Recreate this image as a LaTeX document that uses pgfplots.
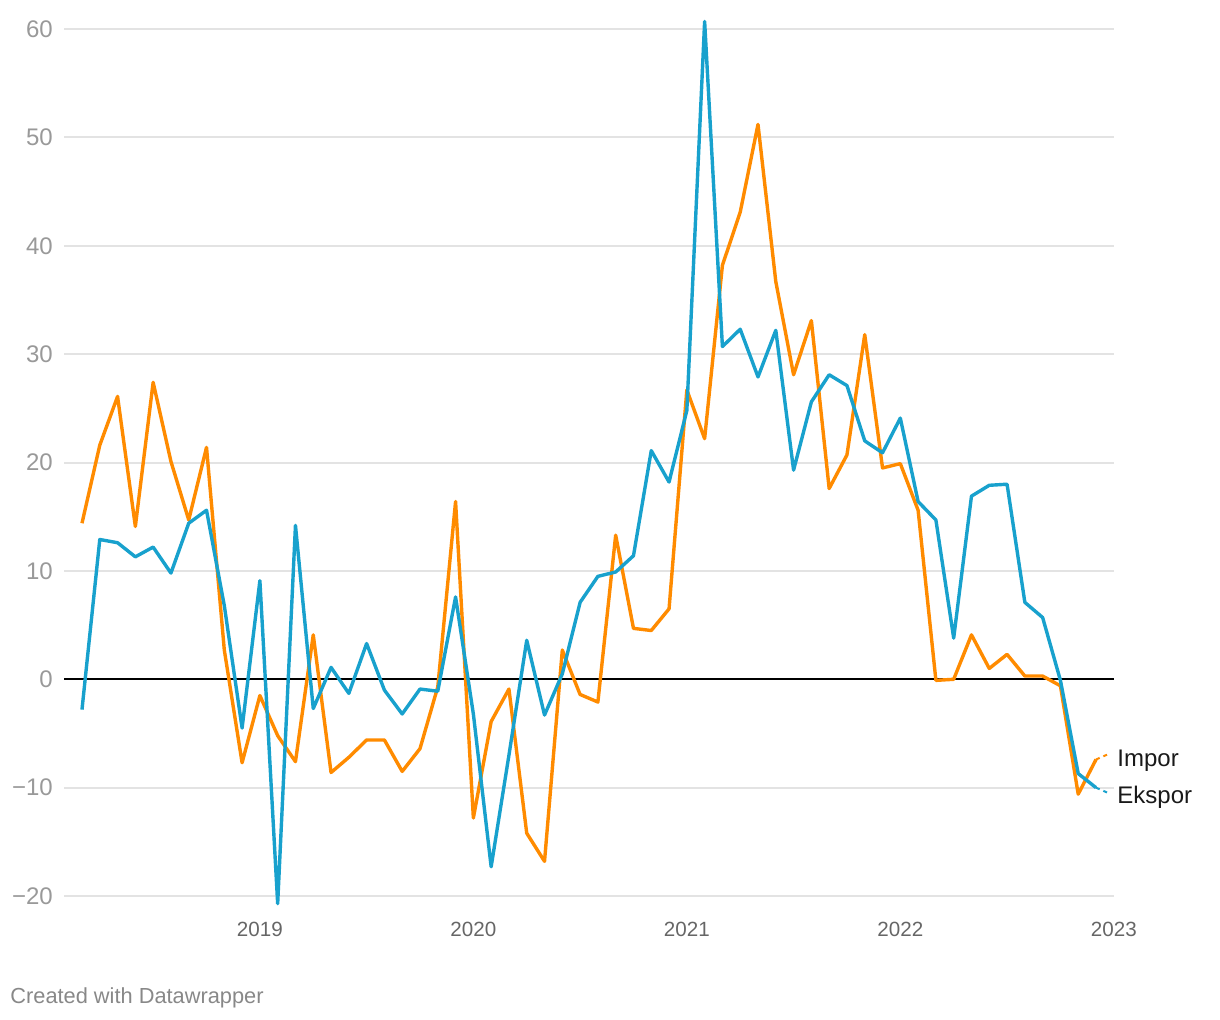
\documentclass[border=0pt]{standalone}
\usepackage{fontspec}
\setmainfont{Liberation Sans}
\usepackage{pgfplots}
\pgfplotsset{compat=1.18}
\usepackage{pgfplotstable}

\definecolor{impor}{HTML}{FF8B00}
\definecolor{ekspor}{HTML}{18A1CD}
\definecolor{gridc}{HTML}{E3E3E3}
\definecolor{ylab}{HTML}{999999}
\definecolor{xlab}{HTML}{666666}
\definecolor{foot}{HTML}{888888}

% month index k: 0 = Mar 2018 ... 57 = Dec 2022
\pgfplotstableread{
k  impor  ekspor
0  14.4   -2.8
1  21.6   12.9
2  26.1   12.6
3  14.1   11.3
4  27.4   12.2
5  20.1    9.8
6  14.7   14.4
7  21.4   15.6
8   2.7    6.8
9  -7.7   -4.5
10 -1.5    9.1
11 -5.2  -20.7
12 -7.6   14.2
13  4.1   -2.7
14 -8.6    1.1
15 -7.2   -1.3
16 -5.6    3.3
17 -5.6   -1.0
18 -8.5   -3.2
19 -6.4   -0.9
20 -0.7   -1.1
21 16.4    7.6
22 -12.8  -3.2
23 -3.9  -17.3
24 -0.9   -7.0
25 -14.2   3.6
26 -16.8  -3.3
27  2.7    0.5
28 -1.4    7.1
29 -2.1    9.5
30 13.3    9.9
31  4.7   11.4
32  4.5   21.1
33  6.5   18.2
34 26.7   24.8
35 22.2   60.7
36 38.2   30.7
37 43.1   32.3
38 51.2   27.9
39 36.7   32.2
40 28.1   19.3
41 33.1   25.6
42 17.6   28.1
43 20.7   27.1
44 31.8   22.0
45 19.5   20.9
46 19.9   24.1
47 15.6   16.4
48 -0.1   14.7
49  0.0    3.8
50  4.1   16.9
51  1.0   17.9
52  2.3   18.0
53  0.3    7.1
54  0.3    5.7
55 -0.6   -0.1
56 -10.6  -8.7
57 -7.4  -10.0
}\datatable

\begin{document}
\begin{tikzpicture}
\begin{axis}[
  name=ax,
  scale only axis,
  width=524.8pt, height=444.35pt,
  xmin=-1, xmax=58,
  ymin=-21, ymax=61,
  clip=false,
  axis line style={draw=none},
  tick style={draw=none},
  ytick={-20,-10,0,10,20,30,40,50,60},
  yticklabels={−20,−10,0,10,20,30,40,50,60},
  xtick={10,22,34,46,58},
  xticklabels={2019,2020,2021,2022,2023},
  ymajorgrids,
  major grid style={gridc, line width=1pt},
  yticklabel style={anchor=east, inner sep=0pt, xshift=-5.5pt, text=ylab, font=\fontsize{12}{14}\selectfont},
  xticklabel style={anchor=north, inner sep=0pt, yshift=-7.5pt, text=xlab, font=\fontsize{10.3}{12}\selectfont},
  no markers,
]
  \addplot [black, line width=1pt] coordinates {(-1,0) (58,0)};
  \addplot [impor, line width=1.7pt, line join=round] table [x=k, y=impor] {\datatable};
  \addplot [ekspor, line width=1.7pt, line join=round] table [x=k, y=ekspor] {\datatable};
  % short dashed connectors to the labels
  \addplot [impor, line width=1pt, dash pattern=on 2pt off 2pt] coordinates {(57,-7.4) (57.7,-6.9)};
  \addplot [ekspor, line width=1pt, dash pattern=on 2pt off 2pt] coordinates {(57,-10.0) (57.7,-10.5)};
  \node [anchor=base west, inner sep=0pt, font=\fontsize{12}{14}\selectfont, text=black!90] at (axis cs:58.18,-8.09) {Impor};
  \node [anchor=base west, inner sep=0pt, font=\fontsize{12}{14}\selectfont, text=black!90] at (axis cs:58.18,-11.47) {Ekspor};
\end{axis}
\node [anchor=base west, inner sep=0pt, text=foot, font=\fontsize{10.9}{12}\selectfont] at ([xshift=-27.1pt, yshift=-48.5pt]ax.south west) {Created with Datawrapper};
\pgfresetboundingbox
\useasboundingbox ([xshift=-32.1pt, yshift=-56.55pt]ax.south west) rectangle ([xshift=577.9pt, yshift=453.45pt]ax.south west);
\end{tikzpicture}
\end{document}
